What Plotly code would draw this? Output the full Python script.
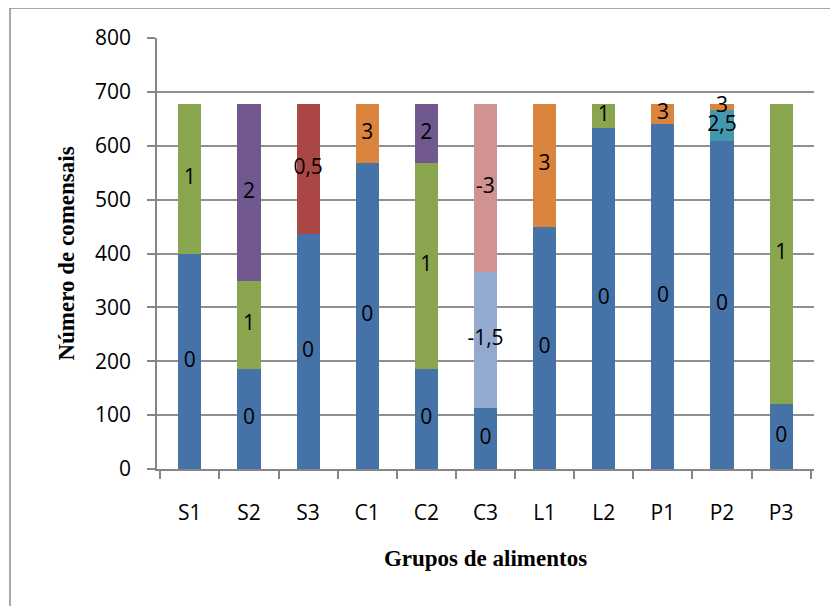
import plotly.graph_objects as go

categories = ["S1", "S2", "S3", "C1", "C2", "C3", "L1", "L2", "P1", "P2", "P3"]

# segment heights per score series (stacked bottom -> top)
series_names = ["0", "0,5", "1", "2", "2,5", "3", "-1,5", "-3"]
s_0    = [400, 186, 436, 568, 186, 114, 450, 633, 640, 609, 121]
s_05   = [0,   0,   242, 0,   0,   0,   0,   0,   0,   0,   0]
s_1    = [278, 163, 0,   0,   382, 0,   0,   45,  0,   0,   557]
s_2    = [0,   329, 0,   0,   110, 0,   0,   0,   0,   0,   0]
s_25   = [0,   0,   0,   0,   0,   0,   0,   0,   0,   57,  0]
s_3    = [0,   0,   0,   110, 0,   0,   228, 0,   38,  12,  0]
s_m15  = [0,   0,   0,   0,   0,   251, 0,   0,   0,   0,   0]
s_m3   = [0,   0,   0,   0,   0,   313, 0,   0,   0,   0,   0]

series_values = [s_0, s_05, s_1, s_2, s_25, s_3, s_m15, s_m3]
colors = ["#4572A7", "#AA4643", "#89A54E", "#71588F", "#4198AF", "#DB843D", "#93A9CF", "#D19392"]

y_ticks = [0, 100, 200, 300, 400, 500, 600, 700, 800]

fig = go.Figure()
label_x, label_y, label_t = [], [], []
base = [0] * len(categories)
for name, vals, col in zip(series_names, series_values, colors):
    fig.add_trace(go.Bar(x=categories, y=vals, name=name, marker_color=col,
                         marker_line_width=0, hoverinfo="skip"))
    for i, v in enumerate(vals):
        if v > 0:
            label_x.append(categories[i])
            label_y.append(base[i] + v / 2)
            label_t.append(name)
            base[i] += v

fig.add_trace(go.Scatter(x=label_x, y=label_y, text=label_t, mode="text",
                         textfont=dict(family="Open Sans", size=21, color="black"),
                         hoverinfo="skip", showlegend=False, cliponaxis=False))

# page has an 8px body margin; plot area on page: x 157..814, y 38..469
OFF = 8
W, H = 838, 606
L, T = 157 - OFF, 38 - OFF
R, B = W - (814 - OFF), H - (469 - OFF)
pw, ph = W - L - R, H - T - B
fig.add_shape(type="rect", xref="paper", yref="paper",
              x0=(10 - OFF - L) / pw, x1=(880 - L) / pw,
              y0=(H - B - 680) / ph, y1=(H - B - (8 - OFF)) / ph,
              line=dict(color="#8c8c8c", width=1.5), fillcolor="rgba(0,0,0,0)", layer="below")

fig.update_layout(
    barmode="stack",
    bargap=0.61,
    width=W, height=H,
    margin=dict(l=L, r=R, t=T, b=B, autoexpand=False),
    paper_bgcolor="white", plot_bgcolor="white",
    showlegend=False,
    hovermode=False,
    font=dict(family="Open Sans", size=21, color="black"),
    xaxis=dict(
        title=dict(text="<b>Grupos de alimentos</b>",
                   font=dict(family="Liberation Serif", size=23, color="black"),
                   standoff=25),
        automargin=False,
        showline=True, linecolor="#868686", linewidth=1.5,
        ticks="outside", tickson="boundaries", ticklen=8, tickcolor="#868686", tickwidth=1.5,
        ticklabelstandoff=24,
        tickfont=dict(family="Open Sans", size=21),
        showgrid=False,
    ),
    yaxis=dict(
        title=dict(text="<b>Número de comensais</b>",
                   font=dict(family="Liberation Serif", size=23, color="black"),
                   standoff=14),
        automargin=False,
        range=[0, 800], tickvals=y_ticks,
        showline=True, linecolor="#868686", linewidth=1.5,
        ticks="outside", ticklen=8, tickcolor="#868686", tickwidth=1.5,
        ticklabelstandoff=12,
        showgrid=True, gridcolor="#8f8f8f", gridwidth=1.5,
        tickfont=dict(family="Open Sans", size=21),
        zeroline=False,
    ),
)

fig.write_html("out.html")
